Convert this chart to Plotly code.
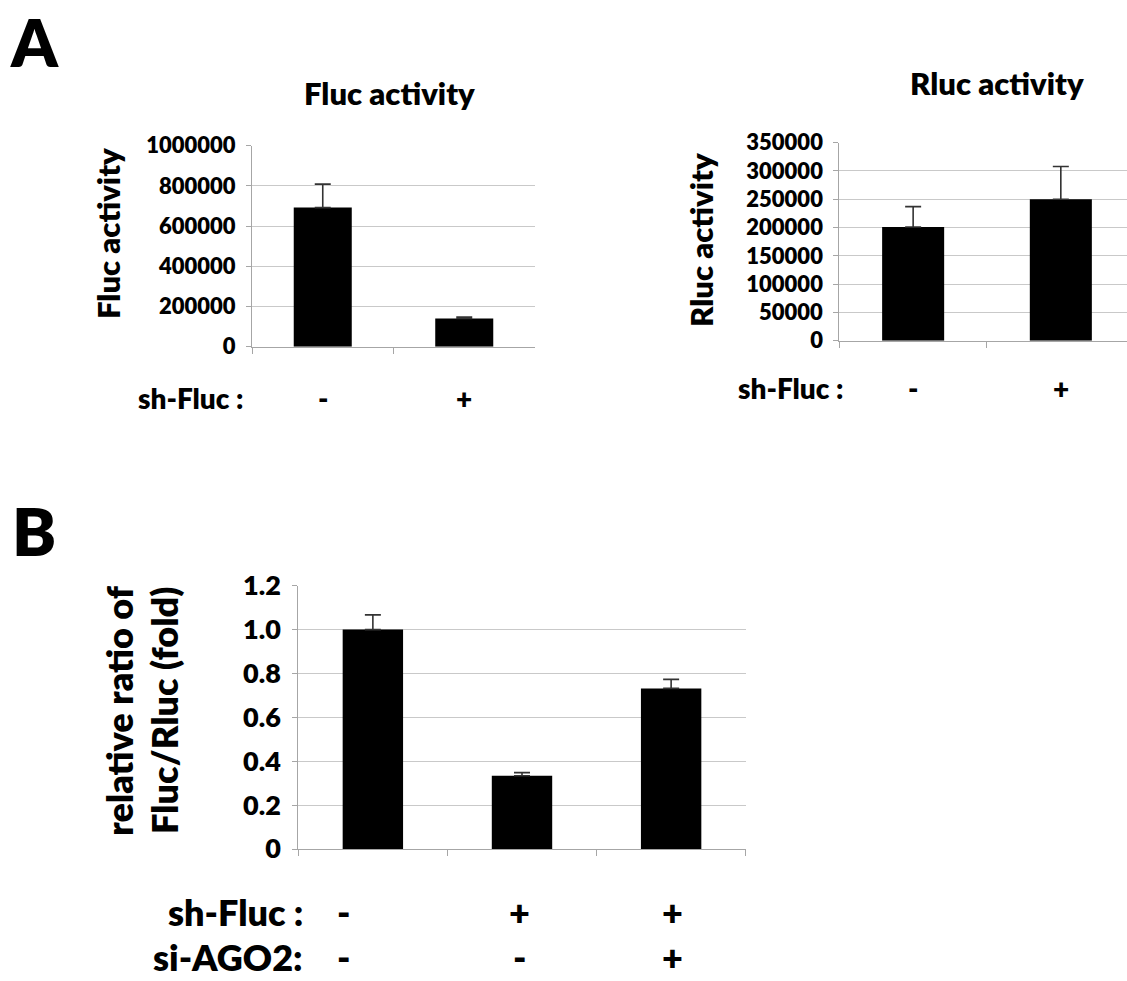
import plotly.graph_objects as go

# ---------------- data ----------------
fluc_categories = ["sh-Fluc -", "sh-Fluc +"]
fluc_values = [692000, 140000]
fluc_errors = [117000, 8000]

rluc_categories = ["sh-Fluc -", "sh-Fluc +"]
rluc_values = [201000, 250000]
rluc_errors = [36000, 58000]

ratio_categories = ["control", "sh-Fluc", "sh-Fluc + si-AGO2"]
ratio_values = [1.0, 0.334, 0.732]
ratio_errors = [0.067, 0.014, 0.041]

fluc_ticks = [0, 200000, 400000, 600000, 800000, 1000000]
fluc_ticktext = ["0", "200000", "400000", "600000", "800000", "1000000"]
rluc_ticks = [0, 50000, 100000, 150000, 200000, 250000, 300000, 350000]
rluc_ticktext = ["0", "50000", "100000", "150000", "200000", "250000",
                 "300000", "350000"]
ratio_ticks = [0, 0.2, 0.4, 0.6, 0.8, 1.0, 1.2]
ratio_ticktext = ["0", "0.2", "0.4", "0.6", "0.8", "1.0", "1.2"]

top_sh_labels = ["-", "+"]
bottom_sh_labels = ["-", "+", "+"]
bottom_ago_labels = ["-", "-", "+"]

W, H = 1127, 981
FONT = "Lato"
WEIGHT = 800
GRID = "#c9c9c9"
AXIS = "#a6a6a6"


def px_x(v):
    return v / W


def px_y(v):
    return 1 - v / H


def bar(cats, vals, errs, xa, ya, width):
    return go.Bar(
        x=cats, y=vals, xaxis=xa, yaxis=ya,
        marker=dict(color="black", line=dict(width=0)),
        width=width,
        error_y=dict(type="data", array=errs, arrayminus=[0] * len(errs),
                     symmetric=False, color="#333333", thickness=1.6, width=8),
        showlegend=False,
    )


fig = go.Figure()
fig.add_trace(bar(fluc_categories, fluc_values, fluc_errors, "x", "y", 0.41))
fig.add_trace(bar(rluc_categories, rluc_values, rluc_errors, "x2", "y2", 0.42))
fig.add_trace(bar(ratio_categories, ratio_values, ratio_errors, "x3", "y3", 0.405))


def xaxis_style(domain, rng, anchor):
    return dict(
        domain=domain, type="category", range=rng, anchor=anchor,
        showline=True, linecolor=AXIS, linewidth=1,
        ticks="outside", tickson="boundaries", ticklen=6, tickcolor=AXIS,
        showticklabels=False, showgrid=False, zeroline=False, fixedrange=True,
        automargin=False,
    )


def yaxis_style(domain, rng, tickvals, ticktext, anchor, size):
    return dict(
        domain=domain, range=rng, anchor=anchor,
        tickvals=tickvals, ticktext=ticktext,
        showline=True, linecolor=AXIS, linewidth=1,
        ticks="outside", ticklen=5, tickcolor=AXIS,
        showgrid=True, gridcolor=GRID, gridwidth=1.3,
        zeroline=False,
        tickfont=dict(family=FONT, size=size, color="black", weight=WEIGHT),
        ticklabelstandoff=6,
        fixedrange=True,
        automargin=False,
    )


fig.update_layout(
    width=W, height=H,
    autosize=False,
    margin=dict(l=0, r=0, t=0, b=0, pad=0, autoexpand=False),
    paper_bgcolor="white", plot_bgcolor="white",
    xaxis=xaxis_style([px_x(252), px_x(535)], [-0.5, 1.5], "y"),
    yaxis=yaxis_style([px_y(346.7), px_y(145.7)], [0, 1000000],
                      fluc_ticks, fluc_ticktext, "x", 22),
    xaxis2=xaxis_style([px_x(839.3), 1.0], [-0.5, 1.448], "y2"),
    yaxis2=yaxis_style([px_y(340.7), px_y(142.7)], [0, 350000],
                       rluc_ticks, rluc_ticktext, "x2", 22),
    xaxis3=xaxis_style([px_x(298.3), px_x(745.7)], [-0.5, 2.5], "y3"),
    yaxis3=yaxis_style([px_y(849), px_y(585.7)], [0, 1.2],
                       ratio_ticks, ratio_ticktext, "x3", 27),
)

ann = []


def text(x, y, s, size, xref="paper", angle=0, xanchor="center", xshift=0,
         yanchor="middle"):
    ann.append(dict(
        x=x, y=y, xref=xref, yref="paper", text=s, showarrow=False,
        font=dict(family=FONT, size=size, color="black", weight=WEIGHT),
        textangle=angle, xanchor=xanchor, yanchor=yanchor, xshift=xshift,
    ))


# panel letters
text(px_x(34), 1.0, "A", 66, yanchor="top")
text(px_x(34), px_y(530), "B", 66)

# titles
text(px_x(389), px_y(93), "Fluc activity", 31)
text(px_x(997), px_y(83), "Rluc activity", 31)

# y-axis titles
text(px_x(108), px_y(234), "Fluc activity", 31, angle=-90)
text(px_x(701), px_y(240), "Rluc activity", 31, angle=-90)
text(px_x(119), px_y(711), "relative ratio of", 36, angle=-90)
text(px_x(164), px_y(711), "Fluc/Rluc (fold)", 36, angle=-90)

# condition rows
text(px_x(245), px_y(398), "sh-Fluc :", 28, xanchor="right")
for c, s in zip(fluc_categories, top_sh_labels):
    text(c, px_y(398), s, 28, xref="x")

text(px_x(845), px_y(388), "sh-Fluc :", 28, xanchor="right")
for c, s in zip(rluc_categories, top_sh_labels):
    text(c, px_y(388), s, 28, xref="x2")

text(px_x(305), px_y(912), "sh-Fluc :", 36, xanchor="right")
text(px_x(305), 0.0, "si-AGO2:", 36, xanchor="right", yanchor="bottom")
shifts = [-29, -3, 1]
for c, s, sh in zip(ratio_categories, bottom_sh_labels, shifts):
    text(c, px_y(912), s, 36, xref="x3", xshift=sh)
for c, s, sh in zip(ratio_categories, bottom_ago_labels, shifts):
    text(c, 0.0, s, 36, xref="x3", xshift=sh, yanchor="bottom")

fig.update_layout(annotations=ann)

fig.write_html(
    "out.html",
    config={"displayModeBar": False},
    post_script="document.body.style.margin='0px';"
                "document.body.style.overflow='hidden';",
)
